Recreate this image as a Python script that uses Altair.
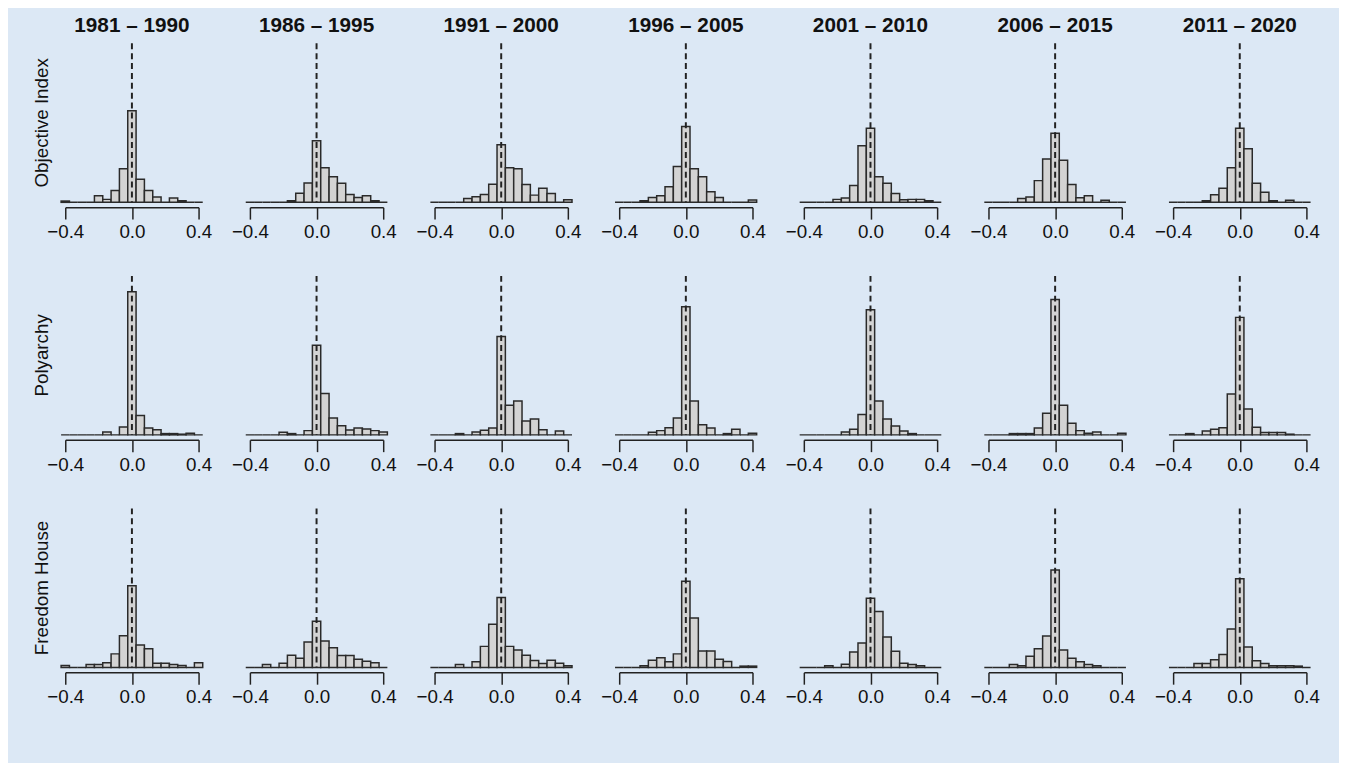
import altair as alt
import pandas as pd

# ---- data (bar heights, arbitrary density units) ----
BIN_CENTERS = [-0.40, -0.35, -0.30, -0.25, -0.20, -0.15, -0.10, -0.05, 0.0,
               0.05, 0.10, 0.15, 0.20, 0.25, 0.30, 0.35, 0.40]
BIN_WIDTH = 0.05

PERIODS = ["1981 – 1990", "1986 – 1995", "1991 – 2000", "1996 – 2005",
           "2001 – 2010", "2006 – 2015", "2011 – 2020"]
MEASURES = ["Objective Index", "Polyarchy", "Freedom House"]

# Objective Index
OBJ_1981 = [1.3, 0, 0, 0, 6.7, 3, 12, 34, 92.7, 23.3, 12, 5.3, 0, 4.3, 1.7, 0, 0]
OBJ_1986 = [0, 0, 0, 0, 0, 1.7, 9.3, 19.7, 62.3, 35, 26, 19.3, 8, 5, 6.7, 1.7, 0]
OBJ_1991 = [0, 0, 0, 0, 4, 5.7, 8, 18.3, 58.3, 35, 34, 18, 7.3, 14.3, 9, 0, 2.7]
OBJ_1996 = [0, 0, 0, 1.7, 5, 6.7, 15.7, 36.3, 76.7, 34, 26, 10.7, 5, 0, 0, 0, 2.3]
OBJ_2001 = [0, 0, 0, 0, 3, 4.3, 17, 57.3, 75, 26, 19.3, 9, 2.7, 3, 3, 1.7, 0]
OBJ_2006 = [0, 0, 0, 0, 4, 5.3, 22, 44, 70, 42.7, 18, 4.7, 6.7, 0, 2, 0, 0]
OBJ_2011 = [0, 0, 0, 0, 1.7, 7.7, 14.3, 35, 75, 54.3, 19.3, 10.3, 1.7, 0, 2, 0, 0]

# Polyarchy
POL_1981 = [0, 0, 0, 0, 0, 3, 0, 8, 145, 19.7, 7, 5.3, 1.3, 1.3, 0.7, 1.7, 0]
POL_1986 = [0, 0, 0, 0, 2.7, 1.3, 0, 4.3, 90.7, 42, 17, 9.3, 5, 7, 6, 4.3, 3]
POL_1991 = [0, 0, 0, 1.3, 0, 3, 4.7, 7, 99.7, 30, 34.3, 14, 16, 5.3, 0, 4, 0]
POL_1996 = [0, 0, 0, 0, 2.7, 4.3, 7.3, 17, 129.7, 34.3, 10.3, 7, 0, 1.3, 5.7, 0, 1.7]
POL_2001 = [0, 0, 0, 0, 0, 3, 5.7, 20.7, 126.7, 34.3, 16, 9, 4, 1.3, 0, 0, 0]
POL_2006 = [0, 0, 0, 1.3, 1.3, 1.3, 7, 22, 137, 30, 11.7, 4.3, 1.7, 3, 0, 0, 1.7]
POL_2011 = [0, 0, 1.3, 0, 4, 5.7, 7.3, 41.3, 119, 26.3, 7.7, 2.3, 2.3, 2.3, 0.7, 0, 0]

# Freedom House
FH_1981 = [2, 0, 0, 3, 3, 4.7, 13.7, 32, 82.7, 22.7, 19, 4.3, 4.3, 3, 2, 0, 4.7]
FH_1986 = [0, 0, 3, 0, 4.3, 12.3, 9.3, 25.7, 46.7, 26.7, 20, 12, 12, 8.3, 6.3, 4.7, 0]
FH_1991 = [0, 0, 0, 3, 0, 5.7, 21.3, 43.7, 70.7, 21.3, 17.7, 12.3, 7, 4, 7.3, 4.3, 1.7]
FH_1996 = [0, 0, 0, 1.7, 7.3, 9.7, 5.7, 13.7, 87.3, 50, 16.7, 16.7, 8.3, 6, 0, 1.3, 1.3]
FH_2001 = [0, 0, 0, 1.7, 0, 3.3, 15.7, 24.7, 70, 56.7, 30.7, 16.3, 4.3, 3, 1.7, 0, 0]
FH_2006 = [0, 0, 0, 3, 1.7, 11.3, 19, 31.7, 98.7, 17.7, 9.3, 5.7, 3, 1.7, 0, 0, 0]
FH_2011 = [0, 0, 0, 4, 4, 7.7, 13, 39, 89.7, 20.7, 6.7, 4, 1.7, 1.7, 1.7, 1.3, 0]

SERIES = {
    "Objective Index": [OBJ_1981, OBJ_1986, OBJ_1991, OBJ_1996, OBJ_2001, OBJ_2006, OBJ_2011],
    "Polyarchy": [POL_1981, POL_1986, POL_1991, POL_1996, POL_2001, POL_2006, POL_2011],
    "Freedom House": [FH_1981, FH_1986, FH_1991, FH_1996, FH_2001, FH_2006, FH_2011],
}

rows = []
for m in MEASURES:
    for p, vals in zip(PERIODS, SERIES[m]):
        for c, h in zip(BIN_CENTERS, vals):
            rows.append({"measure": m, "period": p, "c": c,
                         "x0": c - BIN_WIDTH / 2, "x1": c + BIN_WIDTH / 2, "h": h})
df = pd.DataFrame(rows)

PANEL_W = 135
PANEL_H = 161
FONT = "Liberation Sans"

xscale = alt.Scale(domain=[-0.4, 0.4], nice=False, zero=False)
yscale = alt.Scale(domain=[0, PANEL_H], nice=False)

bars = alt.Chart().mark_rect(fill="#d3d3d3", stroke="#2a2a2a", strokeWidth=1.5).encode(
    x=alt.X("x0:Q", scale=xscale,
            axis=alt.Axis(values=[-0.4, 0.0, 0.4], format=".1f", title=None, grid=False,
                          domainWidth=1.5, domainColor="#222222", tickWidth=1.5,
                          tickColor="#222222", tickSize=12, labelFontSize=19,
                          labelFont=FONT, labelColor="#111111", labelPadding=4,
                          offset=5, labelFlush=False)),
    x2="x1:Q",
    y=alt.Y("h:Q", scale=yscale, axis=None),
    y2=alt.datum(0),
)

rule = alt.Chart().transform_filter(alt.datum.c == 0).mark_rule(
    color="#222222", strokeWidth=2, strokeDash=[6, 4]
).encode(
    x=alt.X("c:Q", scale=xscale),
    y=alt.value(0),
    y2=alt.value(PANEL_H),
)

layered = alt.layer(bars, rule, data=df).properties(width=PANEL_W, height=PANEL_H)

chart = layered.facet(
    row=alt.Row("measure:N", sort=MEASURES,
                header=alt.Header(title=None, labelFontSize=19, labelFont=FONT,
                                  labelColor="#111111", labelAngle=-90,
                                  labelOrient="left", labelPadding=4)),
    column=alt.Column("period:N", sort=PERIODS,
                      header=alt.Header(title=None, labelFontSize=21, labelFont=FONT,
                                        labelFontWeight="bold", labelColor="#111111",
                                        labelPadding=8)),
    spacing={"row": 74.5, "column": 52},
    bounds="flush",
).resolve_axis(x="independent").properties(
    background="#dce8f5",
    padding={"left": 25, "top": 2, "right": 19, "bottom": 52},
).configure_view(stroke=None)

chart.save("out.html", embed_options={"renderer": "svg", "actions": False})
